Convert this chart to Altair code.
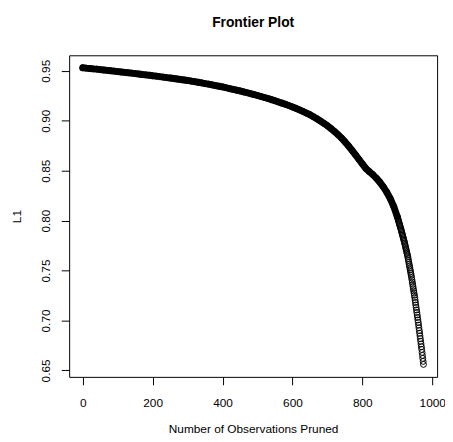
import altair as alt
import pandas as pd

# Number of observations pruned (dense part read every 10, tail read point by point)
pruned_coarse = list(range(0, 900, 10))
l1_coarse = [
    0.9530, 0.9526, 0.9523, 0.9519, 0.9516, 0.9512, 0.9508, 0.9504, 0.9500, 0.9496,
    0.9492, 0.9488, 0.9484, 0.9480, 0.9476, 0.9472, 0.9468, 0.9463, 0.9459, 0.9455,
    0.9450, 0.9446, 0.9441, 0.9437, 0.9432, 0.9428, 0.9423, 0.9418, 0.9413, 0.9408,
    0.9403, 0.9397, 0.9391, 0.9385, 0.9379, 0.9372, 0.9366, 0.9359, 0.9352, 0.9345,
    0.9338, 0.9330, 0.9322, 0.9314, 0.9306, 0.9298, 0.9289, 0.9280, 0.9271, 0.9262,
    0.9252, 0.9242, 0.9232, 0.9222, 0.9211, 0.9200, 0.9188, 0.9176, 0.9164, 0.9151,
    0.9138, 0.9124, 0.9109, 0.9093, 0.9077, 0.9060, 0.9040, 0.9019, 0.8997, 0.8974,
    0.8950, 0.8922, 0.8893, 0.8862, 0.8828, 0.8790, 0.8749, 0.8706, 0.8660, 0.8614,
    0.8568, 0.8522, 0.8490, 0.8460, 0.8425, 0.8385, 0.8338, 0.8284, 0.8220, 0.8140,
]
pruned_tail = list(range(900, 976))
l1_tail = [
    0.8040, 0.8028, 0.8016, 0.8004, 0.7992, 0.7980, 0.7968, 0.7956, 0.7944, 0.7932,
    0.7920, 0.7907, 0.7894, 0.7881, 0.7868, 0.7855, 0.7842, 0.7829, 0.7816, 0.7803,
    0.7790, 0.7775, 0.7760, 0.7745, 0.7730, 0.7715, 0.7700, 0.7685, 0.7670, 0.7655,
    0.7640, 0.7621, 0.7602, 0.7583, 0.7564, 0.7545, 0.7526, 0.7507, 0.7488, 0.7469,
    0.7450, 0.7428, 0.7406, 0.7384, 0.7362, 0.7340, 0.7318, 0.7296, 0.7274, 0.7252,
    0.7230, 0.7205, 0.7180, 0.7155, 0.7130, 0.7105, 0.7080, 0.7055, 0.7030, 0.7005,
    0.6980, 0.6953, 0.6926, 0.6899, 0.6872, 0.6845, 0.6818, 0.6791, 0.6764, 0.6737,
    0.6710, 0.6680, 0.6650, 0.6620, 0.6590, 0.6560,
]
x_ticks = [0, 200, 400, 600, 800, 1000]
y_ticks = [0.65, 0.70, 0.75, 0.80, 0.85, 0.90, 0.95]

df = pd.DataFrame({
    "pruned": pruned_coarse + pruned_tail,
    "L1": l1_coarse + l1_tail,
})

FONT = "Liberation Sans"

x_enc = alt.X(
    "pruned:Q",
    scale=alt.Scale(domain=[-39, 1014], nice=False, zero=False),
    axis=alt.Axis(
        values=x_ticks, format="d", title="Number of Observations Pruned", grid=False,
        domain=False, ticks=True, tickSize=8, tickColor="black", tickWidth=1,
        labelFont=FONT, labelFontSize=12, labelColor="black", labelPadding=13,
        labelFlush=False, labelOverlap=False,
        titleFont=FONT, titleFontSize=12, titleFontWeight="normal", titleColor="black",
        titleX=186.5, titleY=56, titleBaseline="alphabetic", titleAlign="center",
    ),
)
y_enc = alt.Y(
    "L1:Q",
    scale=alt.Scale(domain=[0.6435, 0.9655], nice=False, zero=False),
    axis=alt.Axis(
        values=y_ticks, format=".2f", title="L1", grid=False,
        domain=False, ticks=True, tickSize=8, tickColor="black", tickWidth=1,
        labelFont=FONT, labelFontSize=12, labelColor="black", labelAngle=270,
        labelAlign="center", labelBaseline="bottom", labelPadding=9,
        labelFlush=False, labelOverlap=False,
        titleFont=FONT, titleFontSize=12, titleFontWeight="normal", titleColor="black",
        titleAngle=270, titleX=-49, titleY=163, titleBaseline="alphabetic", titleAlign="center",
    ),
)

base = alt.Chart(df)
band = base.transform_filter("datum.pruned <= 900").mark_line(
    color="black", strokeWidth=7, strokeCap="round", strokeJoin="round"
).encode(x=x_enc, y=y_enc)
pts = base.mark_point(
    shape="circle", filled=False, color="black", strokeWidth=1, size=36, opacity=1
).encode(x=x_enc, y=y_enc)

chart = alt.layer(band, pts).properties(
    width=373, height=326,
    title=alt.TitleParams(
        "Frontier Plot", font=FONT, fontSize=14, fontWeight="bold", color="black",
        anchor="middle", baseline="alphabetic", offset=15,
    ),
    autosize=alt.AutoSizeParams(type="none"),
    padding={"left": 62, "top": 45, "right": 8, "bottom": 58},
).configure(
    background="white",
    view=alt.ViewConfig(stroke="black", strokeWidth=1),
)

chart.save("out.html", embed_options={"renderer": "svg", "actions": False})
